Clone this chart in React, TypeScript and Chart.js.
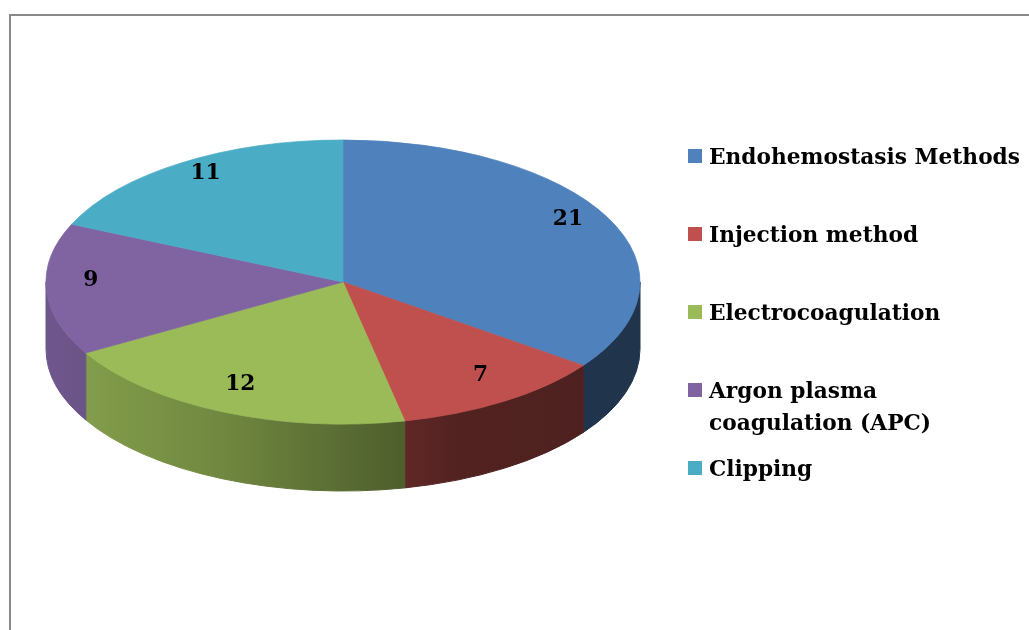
import React, { useEffect, useRef } from "react";
import { Chart, registerables } from "chart.js";

Chart.register(...registerables);

// ---- data ----
const categories = [
  "Endohemostasis Methods",
  "Injection method",
  "Electrocoagulation",
  "Argon plasma coagulation (APC)",
  "Clipping",
];
const legendLines = [
  ["Endohemostasis Methods"],
  ["Injection method"],
  ["Electrocoagulation"],
  ["Argon plasma", "coagulation (APC)"],
  ["Clipping"],
];
const values = [21, 7, 12, 9, 11];
const colors = ["#4F81BD", "#C0504D", "#9BBB59", "#8064A2", "#4BACC6"];

// ---- layout ----
const W = 1029;
const H = 630;
const CX = 343;
const CY = 282;
const RX = 297;
const RY = 142;
const DEPTH = 67;
const K = RY / RX;
const FONT = 'bold 23px "DejaVu Serif"';
const LABEL_FRAC = 0.85;
const LABEL_DY = -8;
const LEG_SQ_X = 688;
const LEG_TX = 709;
const LEG_BASE = 164;
const LEG_STEP = 78;
const LEG_LINE = 32;
const LEG_W = 311;

function hexToRgb(h: string) {
  const n = parseInt(h.slice(1), 16);
  return [(n >> 16) & 255, (n >> 8) & 255, n & 255];
}
function shade(h: string, f: number) {
  const [r, g, b] = hexToRgb(h);
  return `rgb(${Math.round(r * f)},${Math.round(g * f)},${Math.round(b * f)})`;
}

const sideStops: [number, number][] = [
  [0, 0.87],
  [0.3, 0.72],
  [0.6, 0.5],
  [0.7, 0.42],
  [1, 0.4],
];

function squeezedText(ctx: any, t: string, x: number, y: number, sq: number) {
  ctx.save();
  ctx.translate(x, y);
  ctx.scale(sq, 1);
  ctx.fillText(t, 0, 0);
  ctx.restore();
}

const pie3d = {
  id: "pie3d",
  beforeDraw(chart: any) {
    const ctx = chart.ctx;
    ctx.save();
    ctx.fillStyle = "#ffffff";
    ctx.fillRect(0, 0, chart.width, chart.height);
    ctx.strokeStyle = "#898989";
    ctx.lineWidth = 2;
    ctx.strokeRect(10, 15, chart.width + 50, chart.height + 50);
    ctx.restore();
  },
  beforeDatasetsDraw(chart: any) {
    const ctx = chart.ctx;
    const meta = chart.getDatasetMeta(0);
    meta.data.forEach((arc: any, i: number) => {
      const { startAngle, endAngle, x, y, outerRadius } = arc.getProps(
        ["startAngle", "endAngle", "x", "y", "outerRadius"],
        true
      );
      const a = Math.max(startAngle, 0);
      const b = Math.min(endAngle, Math.PI);
      if (b <= a) return;
      const R = outerRadius;
      const g = ctx.createLinearGradient(x - R, 0, x + R, 0);
      sideStops.forEach(([t, f]) => g.addColorStop(t, shade(colors[i], f)));
      ctx.save();
      ctx.fillStyle = g;
      ctx.strokeStyle = g;
      ctx.lineWidth = 1;
      ctx.beginPath();
      ctx.ellipse(x, y, R, R * K, 0, a, b, false);
      ctx.ellipse(x, y + DEPTH, R, R * K, 0, b, a, true);
      ctx.closePath();
      ctx.fill();
      ctx.stroke();
      ctx.restore();
    });
    const y0 = meta.data[0].y;
    ctx.save();
    ctx.translate(0, y0 * (1 - K));
    ctx.scale(1, K);
  },
  afterDatasetsDraw(chart: any) {
    const ctx = chart.ctx;
    ctx.restore();
    const meta = chart.getDatasetMeta(0);
    const ds = chart.data.datasets[0];
    ctx.save();
    ctx.font = FONT;
    const sq = Math.min(1, LEG_W / ctx.measureText(legendLines[0][0]).width);
    ctx.fillStyle = "#000000";
    ctx.textAlign = "center";
    ctx.textBaseline = "middle";
    meta.data.forEach((arc: any, i: number) => {
      const { startAngle, endAngle, x, y, outerRadius } = arc.getProps(
        ["startAngle", "endAngle", "x", "y", "outerRadius"],
        true
      );
      const mid = (startAngle + endAngle) / 2;
      const px = x + LABEL_FRAC * outerRadius * Math.cos(mid);
      const py = y + LABEL_DY + LABEL_FRAC * outerRadius * K * Math.sin(mid);
      squeezedText(ctx, String(ds.data[i]), px, py, sq);
    });
    // legend
    ctx.textAlign = "left";
    ctx.textBaseline = "alphabetic";
    legendLines.forEach((lines, i) => {
      const base = LEG_BASE + i * LEG_STEP;
      ctx.fillStyle = colors[i];
      ctx.fillRect(LEG_SQ_X, base - 15, 14, 14);
      ctx.fillStyle = "#000000";
      lines.forEach((t, j) => squeezedText(ctx, t, LEG_TX, base + j * LEG_LINE, sq));
    });
    ctx.restore();
  },
};

export default function App() {
  const ref = useRef<HTMLCanvasElement | null>(null);
  useEffect(() => {
    if (!ref.current) return;
    const chart = new Chart(ref.current, {
      type: "pie",
      data: {
        labels: categories,
        datasets: [
          {
            data: values,
            backgroundColor: colors,
            borderColor: colors,
            borderWidth: 1,
            radius: RX,
            clip: false,
          } as any,
        ],
      },
      options: {
        responsive: false,
        animation: false,
        events: [],
        layout: {
          padding: { left: 0, top: 0, right: W - 2 * CX, bottom: H - 2 * CY },
        },
        plugins: {
          legend: { display: false },
          tooltip: { enabled: false },
        },
      } as any,
      plugins: [pie3d],
    });
    return () => chart.destroy();
  }, []);
  return (
    <div style={{ position: "absolute", left: 0, top: 0, width: W, height: H, background: "#fff" }}>
      <canvas ref={ref} width={W} height={H} style={{ display: "block" }} />
    </div>
  );
}
